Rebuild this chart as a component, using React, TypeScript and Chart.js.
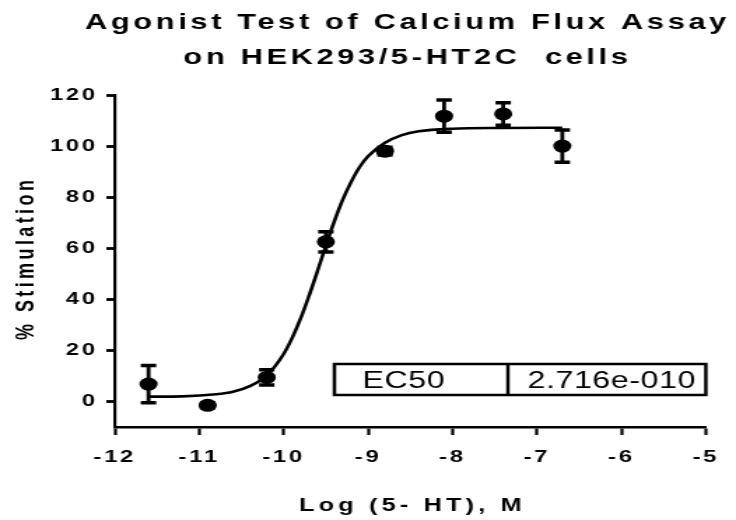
import React, { useEffect, useRef } from "react";
import { Chart, registerables } from "chart.js";

Chart.register(...registerables);

// ---------- data ----------
const TITLE_LINES = ["Agonist Test of Calcium Flux Assay", "on HEK293/5-HT2C  cells"];
const X_TITLE = "Log (5- HT), M";
const Y_TITLE = "% Stimulation";

const LOG_CONC = [-11.6, -10.9, -10.2, -9.5, -8.8, -8.1, -7.4, -6.7];
const STIM_MEAN = [6.8, -1.5, 9.4, 62.5, 98, 111.7, 112.6, 100];
const STIM_SEM = [7.3, 1.0, 3.0, 4.0, 1.5, 6.3, 4.4, 6.3];

// fitted curve
const CURVE_X = [-11.6, -11.2, -10.8, -10.6, -10.4, -10.2, -10.0, -9.9, -9.8, -9.7, -9.6, -9.5, -9.4, -9.3, -9.2, -9.1, -9.0, -8.8, -8.6, -8.4, -8.0, -7.4, -6.7];
const CURVE_Y = [1.9, 2.0, 2.8, 3.8, 6.0, 10.2, 18.6, 24.8, 32.4, 41.3, 51.0, 61.0, 70.5, 79.0, 86.0, 91.8, 96.0, 101.3, 104.3, 105.8, 106.8, 107.1, 107.2];

const X_TICKS = [-12, -11, -10, -9, -8, -7, -6, -5];
const Y_TICKS = [0, 20, 40, 60, 80, 100, 120];

const EC50_LABEL = "EC50";
const EC50_VALUE = "2.716e-010";

// ---------- layout ----------
const OUT_W = 736;
const OUT_H = 520;
const STRETCH = 1.4; // reference is horizontally stretched
const W = Math.round(OUT_W / STRETCH);
const FONT = "'Liberation Sans', Arial, Helvetica, sans-serif";
const TICK_SPACING = "2px";

const prismPlugin = {
  id: "prismDecor",
  beforeUpdate(chart: any) {
    chart.ctx.letterSpacing = TICK_SPACING;
  },
  beforeDraw(chart: any) {
    chart.ctx.letterSpacing = TICK_SPACING;
  },
  afterDatasetsDraw(chart: any) {
    const ctx = chart.ctx;
    const xs = chart.scales.x;
    const ys = chart.scales.y;
    ctx.save();
    ctx.strokeStyle = "#000";
    LOG_CONC.forEach((xv, i) => {
      const px = xs.getPixelForValue(xv);
      const top = ys.getPixelForValue(STIM_MEAN[i] + STIM_SEM[i]);
      const bot = ys.getPixelForValue(STIM_MEAN[i] - STIM_SEM[i]);
      ctx.lineWidth = 2.8;
      ctx.beginPath();
      ctx.moveTo(px, top);
      ctx.lineTo(px, bot);
      ctx.stroke();
      ctx.lineWidth = 3.5;
      ctx.beginPath();
      ctx.moveTo(px - 5.5, top);
      ctx.lineTo(px + 5.5, top);
      ctx.moveTo(px - 5.5, bot);
      ctx.lineTo(px + 5.5, bot);
      ctx.stroke();
    });
    ctx.restore();
  },
  afterDraw(chart: any) {
    const ctx = chart.ctx;
    const area = chart.chartArea;
    const cx = (area.left + area.right) / 2;
    ctx.save();
    ctx.fillStyle = "#000";

    // title
    ctx.font = `bold 22px ${FONT}`;
    ctx.letterSpacing = "2.6px";
    ctx.textAlign = "center";
    ctx.textBaseline = "alphabetic";
    ctx.fillText(TITLE_LINES[0], cx - 2, 29);
    ctx.fillText(TITLE_LINES[1], cx - 2, 64);

    // x title
    ctx.font = `bold 18px ${FONT}`;
    ctx.letterSpacing = "3px";
    ctx.fillText(X_TITLE, cx + 1.5, 511);

    // y title
    ctx.save();
    ctx.translate(19, 260);
    ctx.rotate(-Math.PI / 2);
    ctx.font = `bold 18px ${FONT}`;
    ctx.letterSpacing = "3.4px";
    ctx.textBaseline = "middle";
    ctx.fillText(Y_TITLE, 1.7, 0);
    ctx.restore();

    // EC50 table
    const bx = area.left + 157;
    const bw = area.right - bx;
    const by = 364;
    const bh = 31;
    const div = bx + 124;
    ctx.strokeStyle = "#000";
    ctx.lineWidth = 2.5;
    ctx.strokeRect(bx, by, bw, bh);
    ctx.beginPath();
    ctx.moveTo(div, by);
    ctx.lineTo(div, by + bh);
    ctx.stroke();
    ctx.font = `23px ${FONT}`;
    ctx.letterSpacing = "0.4px";
    ctx.textAlign = "left";
    ctx.fillText(EC50_LABEL, bx + 20, by + 24);
    ctx.fillText(EC50_VALUE, div + 14, by + 24);

    ctx.restore();
  },
};

export default function App() {
  const canvasRef = useRef<HTMLCanvasElement | null>(null);

  useEffect(() => {
    const canvas = canvasRef.current;
    if (!canvas) return;
    canvas.width = W;
    canvas.height = OUT_H;
    canvas.style.width = OUT_W + "px";
    canvas.style.height = OUT_H + "px";

    const points = LOG_CONC.map((x, i) => ({ x, y: STIM_MEAN[i] }));
    const curve = CURVE_X.map((x, i) => ({ x, y: CURVE_Y[i] }));

    const chart = new Chart(canvas, {
      type: "scatter",
      data: {
        datasets: [
          {
            label: "fit",
            data: curve,
            showLine: true,
            borderColor: "#000",
            borderWidth: 2.6,
            pointRadius: 0,
            cubicInterpolationMode: "monotone",
            fill: false,
          } as any,
          {
            label: "mean",
            data: points,
            pointRadius: 6.5,
            pointBackgroundColor: "#000",
            pointBorderWidth: 0,
            borderColor: "#000",
          },
        ],
      },
      options: {
        responsive: false,
        animation: false,
        devicePixelRatio: 1,
        layout: { padding: { top: 95, right: W - 508, left: 0, bottom: 0 } },
        plugins: {
          legend: { display: false },
          title: { display: false },
          tooltip: { enabled: false },
        },
        scales: {
          x: {
            type: "linear",
            min: -12,
            max: -5,
            afterBuildTicks: (s: any) => {
              s.ticks = X_TICKS.map((v) => ({ value: v }));
            },
            afterFit: (s: any) => {
              s.height = OUT_H - 427;
            },
            border: { display: true, color: "#000", width: 2.6 },
            grid: {
              display: true,
              drawOnChartArea: false,
              drawTicks: true,
              tickLength: 8,
              tickWidth: 2.2,
              tickColor: "#000",
              color: "#000",
            },
            ticks: {
              color: "#000",
              padding: 12,
              maxRotation: 0,
              font: { family: FONT, size: 17, weight: "bold" },
            },
          },
          y: {
            type: "linear",
            min: -10,
            max: 120,
            afterBuildTicks: (s: any) => {
              s.ticks = Y_TICKS.map((v) => ({ value: v }));
            },
            afterFit: (s: any) => {
              s.width = 82;
            },
            border: { display: true, color: "#000", width: 2.2 },
            grid: {
              display: true,
              drawOnChartArea: false,
              drawTicks: true,
              tickLength: 6,
              tickWidth: 2.8,
              tickColor: "#000",
              color: "#000",
            },
            ticks: {
              color: "#000",
              padding: 6,
              font: { family: FONT, size: 17, weight: "bold" },
            },
          },
        },
      },
      plugins: [prismPlugin],
    });

    return () => chart.destroy();
  }, []);

  return (
    <div
      style={{
        position: "fixed",
        left: 0,
        top: 0,
        width: OUT_W,
        height: OUT_H,
        background: "#fff",
      }}
    >
      <canvas ref={canvasRef} />
    </div>
  );
}
